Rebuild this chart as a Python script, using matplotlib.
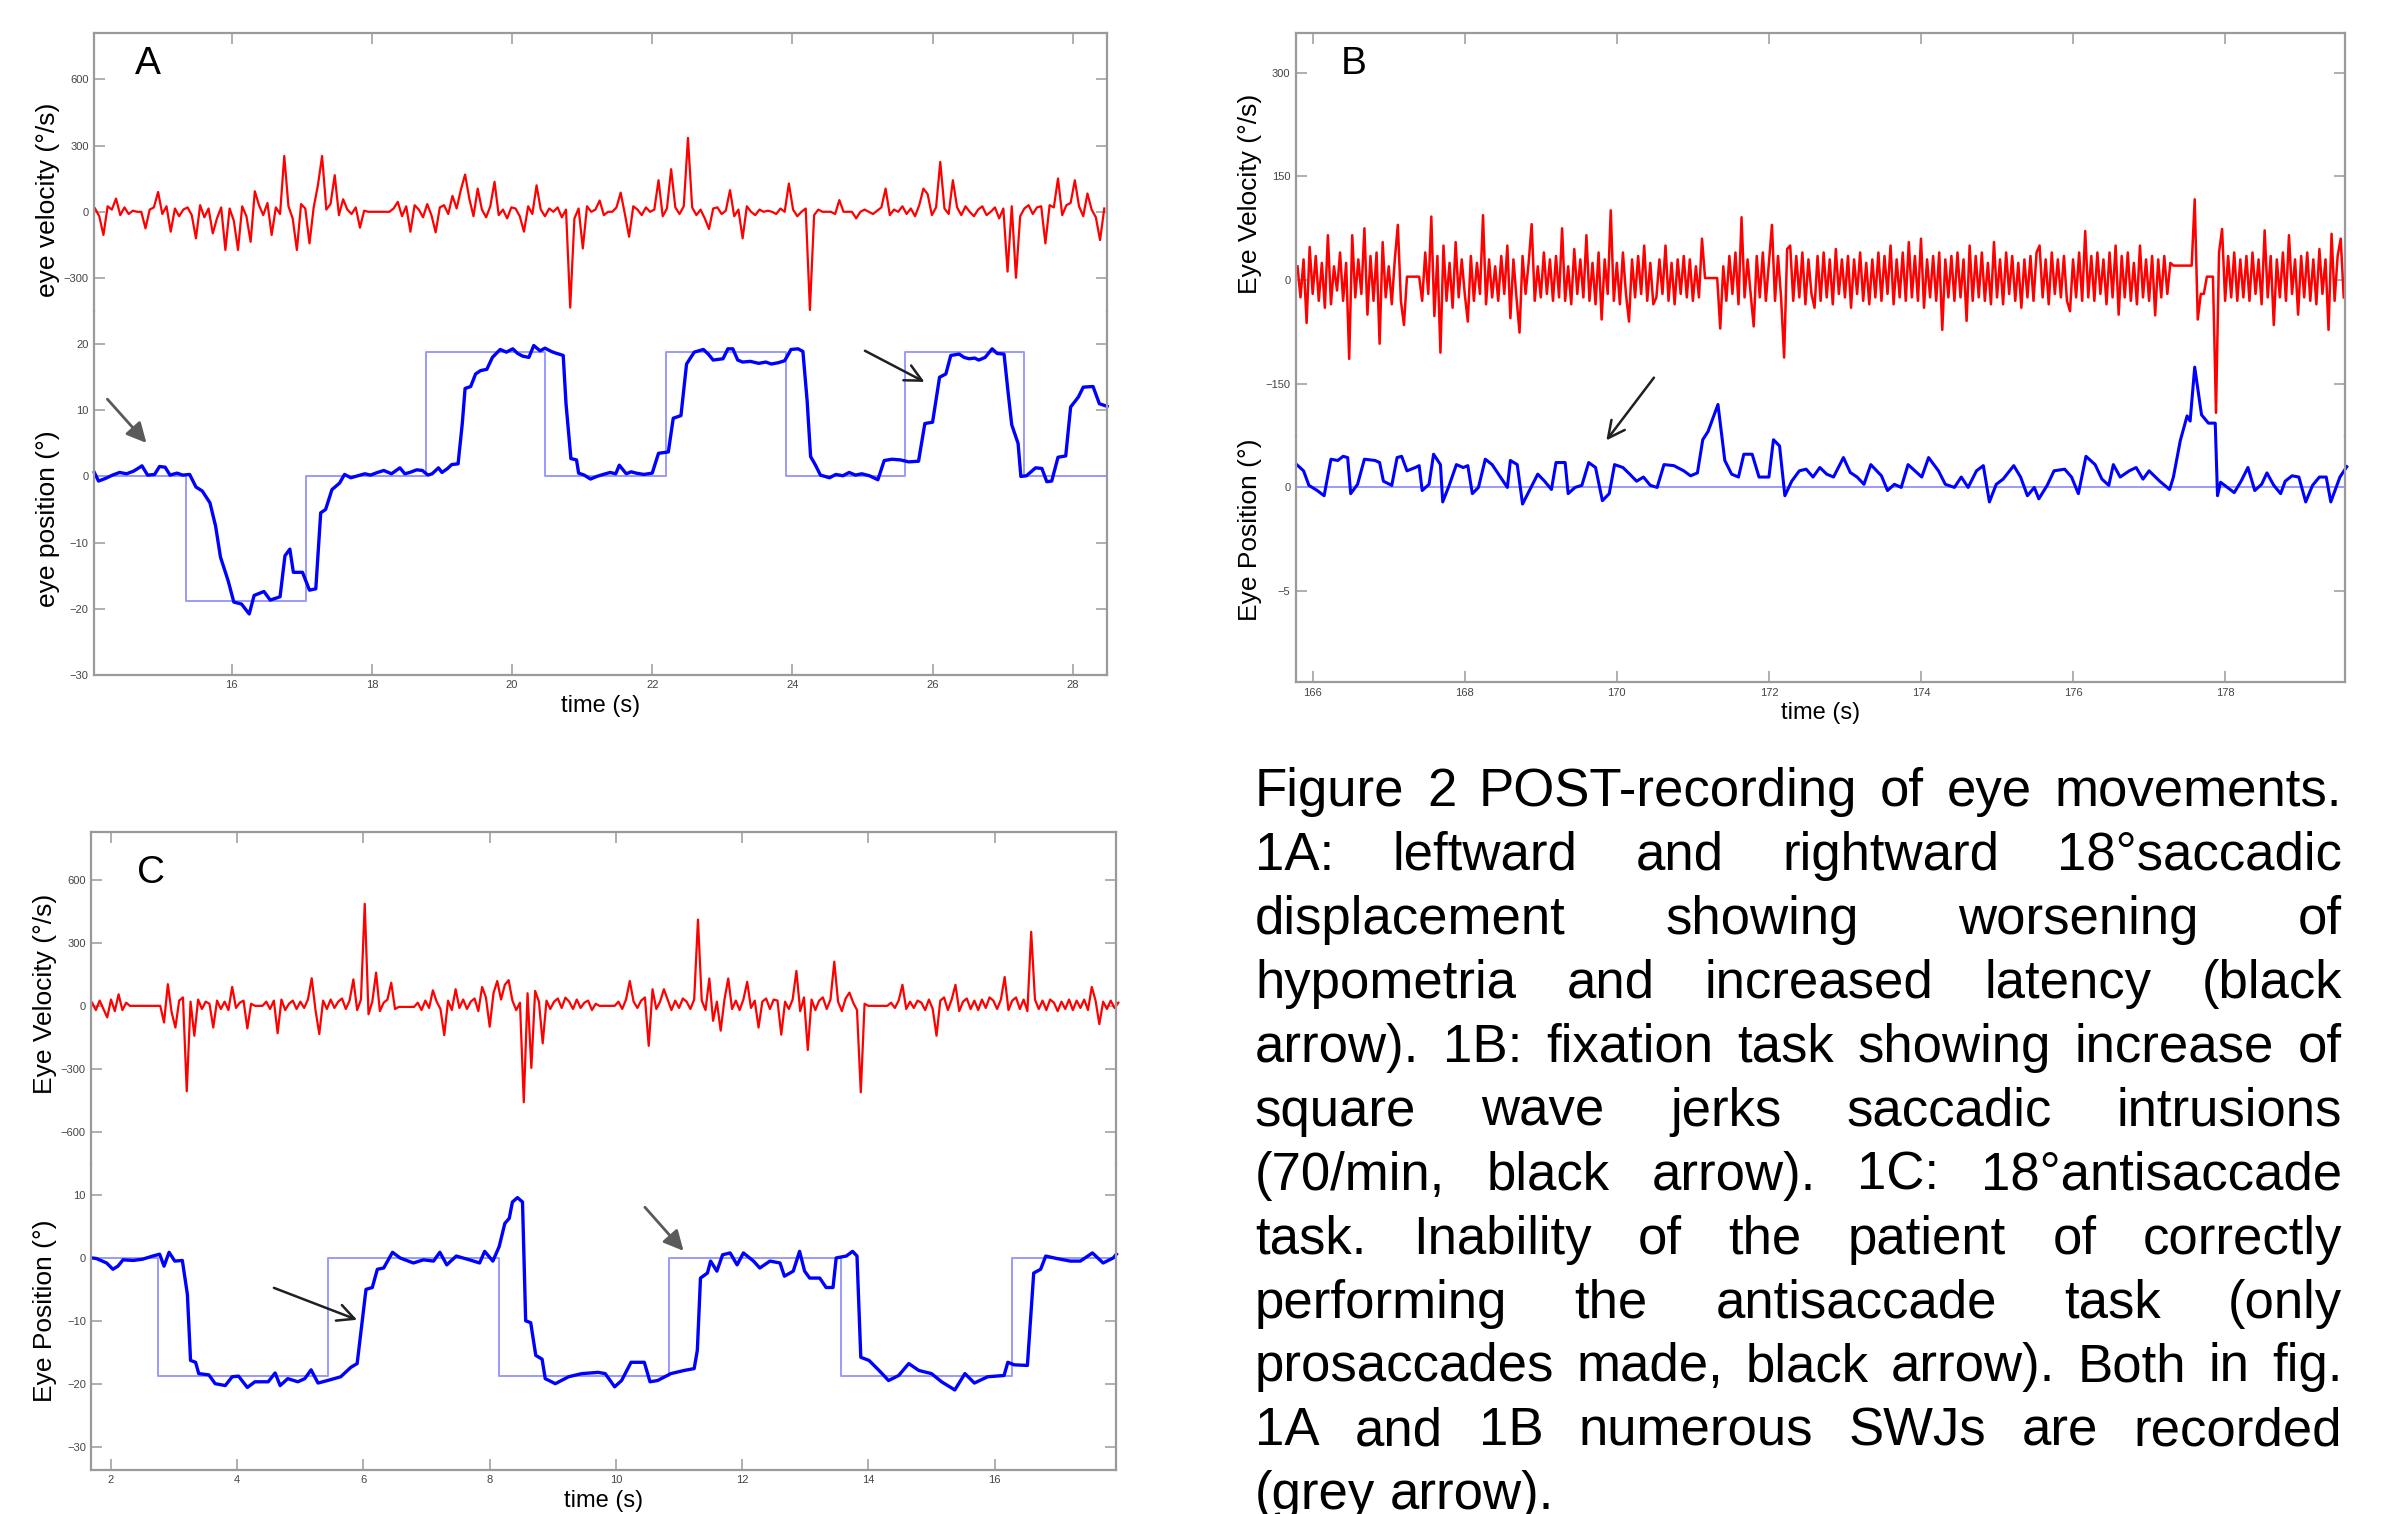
import numpy as np
import matplotlib
matplotlib.use("Agg")
import matplotlib.pyplot as plt

plt.rcParams['font.family'] = ['Liberation Sans', 'DejaVu Sans']

# ---------------- panel A: saccades ----------------
vel_a_t0, vel_a_dt = 14.05, 0.06
vel_a = [
    15, -20, -105, 25, 10, 60, -15, 20, -10, 5,
    0, 0, -75, 10, 20, 90, -10, 25, -90, 15,
    -20, 10, 20, -15, -120, 30, -25, 15, -98, -30,
    20, -173, 15, -40, -173, 25, -20, -136, 93, 30,
    -15, 40, -105, 20, -10, 253, 25, -30, -173, 35,
    15, -143, 20, 120, 253, 10, 35, 166, -15, 57,
    10, -10, 20, -72, 5, 0, 0, 0, 0, 0,
    0, 15, 45, -20, 25, -90, 30, 10, -25, 35,
    -15, -93, 20, 30, -10, 72, 15, 100, 169, 60,
    -20, 105, 10, -25, 25, 136, -15, 10, -30, 20,
    15, -20, -90, 25, -10, 120, 10, -20, 15, 0,
    20, -25, 10, -434, -30, 15, -166, 25, 0, 10,
    51, -15, 0, 0, 20, 87, -10, -113, 25, 10,
    -15, 20, 0, 10, 143, -20, 15, 193, 20, -10,
    25, 335, 20, -15, 10, -30, -78, 15, 20, -10,
    5, 98, -20, 10, -120, 25, 0, -15, 10, 0,
    5, 0, -10, 15, 0, 128, 10, -20, 0, 15,
    -445, -15, 10, 0, 0, 0, -10, 53, 0, 0,
    0, -30, 0, 10, 0, -10, 5, 20, 105, -15,
    10, 0, 25, -10, 15, -20, 30, 105, 80, -15,
    20, 226, 15, -10, 143, 20, -15, 25, 0, -20,
    10, 25, -15, 0, 20, -30, 15, -271, 25, -299,
    -20, 15, 30, -10, 20, 25, -143, 30, 20, 151,
    -15, 30, 40, 143, 25, -20, 83, 10, -25, -128,
    15,
]
pos_a_t = [
    14.04, 14.10, 14.20, 14.30, 14.40, 14.50, 14.60, 14.72, 14.80, 14.90,
    14.97, 15.05, 15.12, 15.22, 15.30, 15.40, 15.49, 15.58, 15.69, 15.77,
    15.84, 15.95, 16.03, 16.14, 16.25, 16.32, 16.46, 16.55, 16.69, 16.76,
    16.83, 16.88, 17.01, 17.11, 17.20, 17.27, 17.34, 17.43, 17.54, 17.61,
    17.70, 17.80, 17.90, 17.98, 18.08, 18.17, 18.28, 18.40, 18.47, 18.54,
    18.64, 18.72, 18.80, 18.86, 18.95, 19.00, 19.08, 19.14, 19.23, 19.29,
    19.33, 19.41, 19.48, 19.55, 19.64, 19.72, 19.83, 19.92, 20.01, 20.08,
    20.15, 20.24, 20.31, 20.40, 20.47, 20.56, 20.61, 20.73, 20.77, 20.84,
    20.92, 20.95, 21.03, 21.12, 21.21, 21.30, 21.40, 21.48, 21.53, 21.63,
    21.70, 21.77, 21.88, 22.00, 22.09, 22.23, 22.30, 22.41, 22.49, 22.60,
    22.73, 22.80, 22.87, 23.01, 23.08, 23.15, 23.22, 23.29, 23.40, 23.52,
    23.62, 23.70, 23.80, 23.89, 23.98, 24.08, 24.15, 24.21, 24.26, 24.33,
    24.40, 24.53, 24.62, 24.72, 24.81, 24.90, 24.99, 25.10, 25.22, 25.31,
    25.42, 25.54, 25.66, 25.80, 25.89, 26.00, 26.10, 26.19, 26.26, 26.38,
    26.45, 26.52, 26.60, 26.66, 26.75, 26.85, 26.92, 27.02, 27.08, 27.13,
    27.22, 27.26, 27.34, 27.47, 27.56, 27.63, 27.70, 27.79, 27.90, 27.97,
    28.08, 28.15, 28.29, 28.38, 28.49,
]
pos_a_v = [
    0.6, -0.7, -0.3, 0.2, 0.6, 0.4, 0.8, 1.6, 0.2, 0.3,
    1.5, 1.4, 0.2, 0.5, 0.2, 0.3, -1.6, -2.2, -4.0, -7.5,
    -12.2, -15.8, -19.0, -19.3, -20.8, -18.0, -17.4, -18.7, -18.2, -12.0,
    -11.0, -14.5, -14.5, -17.2, -17.0, -5.5, -5.0, -2.0, -1.0, 0.3,
    -0.2, 0.1, 0.4, 0.2, 0.6, 0.9, 0.4, 1.3, 0.4, 0.6,
    1.0, 0.9, 0.2, 0.4, 1.3, 0.6, 1.2, 1.8, 1.9, 8.0,
    13.3, 13.6, 15.5, 16.0, 16.2, 18.0, 19.2, 18.8, 19.3, 18.6,
    18.2, 18.0, 19.8, 19.0, 19.4, 18.9, 18.7, 18.3, 11.0, 2.7,
    2.5, 0.5, 0.2, -0.4, 0.0, 0.3, 0.6, 0.4, 1.7, 0.4,
    0.7, 0.5, 0.3, 0.5, 3.5, 3.7, 8.8, 9.2, 17.0, 18.8,
    19.2, 18.5, 17.6, 17.8, 19.3, 19.3, 17.6, 17.3, 17.4, 17.1,
    17.3, 17.0, 17.2, 17.5, 19.2, 19.3, 18.9, 11.5, 3.0, 1.7,
    0.2, -0.2, 0.3, 0.1, 0.6, 0.2, 0.4, 0.1, -0.5, 2.4,
    2.6, 2.5, 2.2, 2.3, 8.0, 8.2, 15.0, 15.5, 18.3, 18.5,
    18.0, 17.8, 17.9, 17.6, 18.0, 19.3, 18.6, 18.5, 12.5, 7.8,
    5.0, 0.0, 0.1, 1.3, 1.2, -0.8, -0.7, 2.9, 3.1, 10.5,
    12.0, 13.5, 13.6, 11.0, 10.6,
]
target_a_t = [14.04, 15.35, 17.06, 18.77, 20.47, 22.19, 23.91, 25.61, 27.30, 28.49]
target_a_v = [0, -18.8, 0, 18.8, 0, 18.8, 0, 18.8, 0, 0]

# ---------------- panel B: fixation ----------------
vel_b_t0, vel_b_dt = 165.80, 0.04
vel_b = [
    20, -25, 30, -62, 48, -20, 35, -30, 25, -40,
    65, -35, 20, -15, 40, -30, 25, -114, 65, -25,
    30, -20, 75, -50, 35, -30, 40, -92, 55, -25,
    20, -35, 30, 80, -30, -65, 5, 5, 5, 5,
    5, -30, 40, -20, 92, -52, 35, -105, 50, -30,
    25, -40, 55, -25, 30, -20, -60, 35, -30, 25,
    -20, 94, -35, 30, -25, 20, -30, 35, -20, 50,
    -55, 30, -25, -76, 35, -20, 25, 81, -30, 20,
    -25, 40, -20, 30, -30, 35, -25, 75, -30, 20,
    -35, 45, -20, 30, -25, 65, -30, 25, -35, 40,
    -57, 30, -20, 101, -30, 25, -35, 40, -20, -60,
    30, -25, 35, -20, 50, -30, 25, -35, -25, 30,
    -20, 50, -30, 25, -35, 30, -20, 35, -25, 30,
    -30, 20, -25, 60, 3, 3, 3, 3, 3, -70,
    20, -30, 35, -20, 40, -35, 91, -25, 30, -20,
    -67, 35, -25, 40, -30, 25, 80, -30, 35, -25,
    -112, 45, 50, -30, 35, -25, 40, -35, 30, -20,
    -40, 35, -30, 40, -25, 30, -35, 45, -20, 30,
    -25, 35, -40, 30, -20, 40, -30, 25, -35, 30,
    -25, 40, -30, 35, -20, 50, -35, 30, -25, 40,
    -30, 55, -25, 35, -30, 60, -40, 30, -25, 35,
    -30, 40, -72, 30, -25, 35, -30, 40, -25, 30,
    -59, 50, -30, 35, -25, 40, -30, 25, -35, 55,
    -25, 30, -35, 40, -20, 35, -30, 25, -40, 30,
    -25, 35, -30, 40, 50, -25, 30, -35, 40, -20,
    30, -25, 35, -30, -45, 30, -25, 40, -30, 71,
    -25, 35, -30, 40, -20, 30, -35, 40, -25, 50,
    -50, 35, -25, 40, -30, 25, -35, 50, -25, 30,
    -30, 35, -51, 30, -25, 35, -20, 25, 21, 21,
    21, 21, 21, 21, 21, 117, -57, -20, -20, 5,
    5, 5, -192, 40, 74, -30, 35, -25, 40, -30,
    30, -25, 35, -30, 40, -20, 30, -35, 72, -25,
    35, -65, 30, -25, 40, -30, 65, -20, 30, -50,
    35, -25, 40, -30, 30, -35, 45, -20, 30, -72,
    67, -30, 35, 60, -25,
]
pos_b_t = [
    165.79, 165.88, 165.95, 166.06, 166.15, 166.24, 166.33, 166.40, 166.46, 166.50,
    166.59, 166.68, 166.82, 166.88, 166.93, 167.04, 167.11, 167.17, 167.24, 167.35,
    167.40, 167.44, 167.53, 167.59, 167.68, 167.71, 167.80, 167.89, 167.98, 168.04,
    168.10, 168.18, 168.27, 168.36, 168.47, 168.56, 168.60, 168.69, 168.76, 168.85,
    168.96, 169.05, 169.14, 169.20, 169.32, 169.36, 169.45, 169.54, 169.63, 169.72,
    169.81, 169.90, 169.97, 170.08, 170.17, 170.26, 170.35, 170.44, 170.53, 170.62,
    170.75, 170.88, 170.97, 171.06, 171.13, 171.20, 171.33, 171.42, 171.51, 171.60,
    171.67, 171.78, 171.87, 172.00, 172.06, 172.14, 172.21, 172.30, 172.40, 172.49,
    172.58, 172.67, 172.76, 172.85, 172.98, 173.07, 173.16, 173.25, 173.34, 173.48,
    173.56, 173.65, 173.74, 173.83, 173.92, 174.01, 174.10, 174.23, 174.32, 174.44,
    174.53, 174.62, 174.73, 174.82, 174.90, 174.99, 175.08, 175.22, 175.31, 175.40,
    175.49, 175.55, 175.66, 175.75, 175.89, 175.98, 176.07, 176.17, 176.29, 176.38,
    176.47, 176.53, 176.62, 176.74, 176.83, 176.92, 177.00, 177.14, 177.27, 177.32,
    177.41, 177.50, 177.54, 177.60, 177.69, 177.78, 177.87, 177.90, 177.94, 178.03,
    178.12, 178.21, 178.30, 178.39, 178.48, 178.55, 178.64, 178.73, 178.79, 178.88,
    178.97, 179.06, 179.15, 179.24, 179.33, 179.39, 179.51, 179.60,
]
pos_b_v = [
    1.1, 0.8, 0.1, -0.15, -0.4, 1.36, 1.3, 1.5, 1.44, -0.3,
    0.15, 1.36, 1.3, 1.2, 0.3, 0.1, 1.44, 1.5, 0.8, 0.96,
    1.05, -0.15, 0.15, 1.6, 1.1, -0.7, 0.15, 1.1, 0.96, 1.05,
    -0.3, 0.0, 1.36, 1.1, 0.5, 0.0, 1.3, 1.1, -0.8, -0.15,
    0.64, 0.3, -0.1, 1.2, 1.2, -0.3, 0.0, 0.1, 1.2, 0.96,
    -0.64, -0.3, 1.1, 0.96, 0.64, 0.3, 0.5, 0.1, 0.0, 1.1,
    1.05, 0.8, 0.56, 0.7, 2.3, 2.7, 4.0, 1.3, 0.64, 0.5,
    1.6, 1.6, 0.5, 0.5, 2.3, 2.0, -0.4, 0.3, 0.8, 0.88,
    0.5, 0.96, 0.64, 0.5, 1.44, 0.72, 0.5, 0.15, 1.1, 0.56,
    -0.15, 0.15, 0.0, 1.1, 0.8, 0.5, 1.44, 0.8, 0.15, 0.0,
    0.5, 0.0, 0.8, 1.05, -0.7, 0.15, 0.4, 1.05, 0.5, -0.4,
    0.0, -0.55, 0.1, 0.8, 0.88, 0.5, -0.3, 1.5, 1.1, 0.4,
    0.1, 1.1, 0.5, 0.8, 0.96, 0.4, 0.8, 0.3, -0.1, 0.5,
    2.25, 3.45, 3.2, 5.8, 3.5, 3.1, 3.1, -0.4, 0.25, 0.0,
    -0.25, 0.3, 0.96, -0.15, 0.15, 0.7, 0.1, -0.3, 0.3, 0.56,
    0.5, -0.7, 0.1, 0.5, 0.5, -0.7, 0.5, 1.0,
]
target_b_t = [165.78, 179.58]
target_b_v = [0, 0]

# ---------------- panel C: antisaccades ----------------
vel_c_t0, vel_c_dt = 1.70, 0.06
vel_c = [
    15, -20, 25, -15, -55, 30, -25, 55, -20, 15,
    0, 0, 0, 0, 0, 0, 0, 0, 0, -79,
    103, -30, -103, 25, 40, -406, 20, -142, 30, -15,
    20, 10, -103, 25, -15, 20, -20, 90, -10, 15,
    25, -107, 10, 0, 0, 0, 20, -15, 25, -130,
    30, -20, 10, 25, -15, 20, -10, 30, 131, -20,
    -134, 25, -15, 30, -10, 20, 35, -15, 25, 126,
    -20, 30, 485, -40, 20, 158, -25, 15, 30, 110,
    -15, -5, -5, -5, -5, -5, 15, -20, 25, -10,
    74, 20, -15, -139, 25, -20, 79, -10, 30, -15,
    20, 35, -25, 90, 40, -99, 60, 118, 30, 100,
    122, 25, -20, 15, -458, 60, -295, 71, 20, -178,
    25, -15, 20, 35, -10, 39, 20, -15, 30, -10,
    15, 25, -20, 10, 0, 0, 0, 0, 0, 20,
    -15, 30, 118, 20, -10, 25, 40, -190, 79, -15,
    20, 79, 30, -20, 25, -10, 35, 20, -15, 30,
    410, 25, -20, 130, -71, 20, -118, 30, 130, -15,
    25, -20, 30, 114, -10, 25, -103, 20, 35, -15,
    30, 25, -137, 20, -15, 30, 166, -25, 40, -210,
    30, -20, 25, 40, -15, 30, 210, 20, -25, 35,
    63, 15, -20, -411, 10, 0, 0, 0, 0, 0,
    0, 15, -10, 25, 100, -15, 20, -10, 25, 15,
    -20, 30, -15, -142, 25, 40, -20, 30, 100, -25,
    20, 35, -15, 25, -20, 30, -10, 40, 25, -15,
    30, 137, -20, 25, 40, -15, 30, -25, 352, 30,
    -15, 25, -20, 30, 15, -25, 20, -15, 30, -20,
    25, -10, 30, -20, 90, 25, -87, 20, -15, 25,
    -10, 15,
]
pos_c_t = [
    1.70, 1.77, 1.93, 2.03, 2.11, 2.19, 2.35, 2.50, 2.66, 2.77,
    2.84, 2.92, 3.01, 3.13, 3.21, 3.26, 3.34, 3.39, 3.55, 3.65,
    3.81, 3.92, 4.02, 4.16, 4.28, 4.49, 4.60, 4.68, 4.80, 4.96,
    5.07, 5.17, 5.28, 5.43, 5.64, 5.80, 5.90, 5.98, 6.04, 6.14,
    6.22, 6.32, 6.46, 6.58, 6.79, 6.95, 7.11, 7.21, 7.32, 7.47,
    7.68, 7.84, 7.92, 8.05, 8.15, 8.24, 8.31, 8.36, 8.44, 8.52,
    8.57, 8.65, 8.73, 8.83, 8.88, 9.04, 9.25, 9.46, 9.72, 9.83,
    9.98, 10.09, 10.24, 10.45, 10.54, 10.66, 10.87, 11.08, 11.24, 11.29,
    11.34, 11.45, 11.50, 11.60, 11.69, 11.81, 11.92, 12.02, 12.18, 12.28,
    12.44, 12.60, 12.67, 12.81, 12.91, 12.99, 13.07, 13.23, 13.33, 13.44,
    13.49, 13.65, 13.75, 13.82, 13.88, 14.01, 14.17, 14.32, 14.48, 14.64,
    14.80, 15.00, 15.16, 15.37, 15.53, 15.68, 15.89, 16.15, 16.21, 16.31,
    16.52, 16.62, 16.73, 16.81, 16.99, 17.20, 17.36, 17.55, 17.72, 17.88,
    17.93,
]
pos_c_v = [
    0.0, -0.1, -0.8, -1.8, -1.3, -0.3, -0.4, -0.2, 0.3, 0.6,
    -1.3, 0.9, -0.5, -0.4, -5.8, -16.3, -16.6, -18.4, -18.6, -20.0,
    -20.3, -18.9, -18.8, -20.6, -19.7, -19.7, -18.3, -20.3, -19.2, -19.7,
    -19.2, -17.8, -19.9, -19.5, -18.9, -17.4, -16.8, -10.0, -5.0, -4.7,
    -1.8, -1.6, 0.9, 0.0, -0.8, -0.3, -0.5, 0.9, -1.1, 0.3,
    -0.3, -0.8, 1.05, -0.5, 1.8, 5.5, 6.3, 8.9, 9.6, 8.9,
    -10.0, -10.3, -15.5, -16.1, -19.2, -20.0, -18.9, -18.4, -18.2, -18.4,
    -20.5, -19.5, -16.6, -16.6, -19.7, -19.5, -18.4, -17.9, -17.6, -14.7,
    -3.2, -2.4, -0.5, -2.1, 0.5, 0.8, -1.1, 0.8, -0.5, -1.6,
    -0.5, -0.8, -2.9, -2.1, 1.05, -2.1, -3.2, -3.2, -4.7, -4.7,
    0.0, 0.3, 1.05, 0.3, -15.8, -16.3, -17.9, -19.5, -18.7, -16.8,
    -17.9, -18.4, -19.7, -21.0, -18.4, -19.9, -18.9, -18.7, -16.6, -17.0,
    -17.1, -2.4, -1.8, 0.3, -0.1, -0.5, -0.5, 0.8, -0.8, 0.0,
    0.6,
]
target_c_t = [1.69, 2.75, 5.44, 8.14, 10.84, 13.56, 16.27, 17.93]
target_c_v = [0, -18.8, 0, -18.8, 0, -18.8, 0, 0]

caption = [
    "Figure 2 POST-recording of eye movements.",
    "1A: leftward and rightward 18\u00b0saccadic",
    "displacement showing worsening of",
    "hypometria and increased latency (black",
    "arrow). 1B: fixation task showing increase of",
    "square wave jerks saccadic intrusions",
    "(70/min, black arrow). 1C: 18\u00b0antisaccade",
    "task. Inability of the patient of correctly",
    "performing the antisaccade task (only",
    "prosaccades made, black arrow). Both in fig.",
    "1A and 1B numerous SWJs are recorded",
    "(grey arrow).",
]

SPINE = "#9a9a9a"
RED = "#ff0000"
BLUE = "#0000ff"
TARGET = "#9a9aff"

fig = plt.figure(figsize=(23.88, 15.14), dpi=100)


def panel(left, width, bottom, mid, top, xlim, xticks, vlim, vticks, plim, pticks,
          vlab, plab, vlab_y, plab_y, lab_x):
    ax_p = fig.add_axes([left, bottom, width, mid - bottom])
    ax_v = fig.add_axes([left, mid, width, top - mid], sharex=ax_p)
    for ax in (ax_v, ax_p):
        ax.set_facecolor("none")
        for s in ax.spines.values():
            s.set_color(SPINE)
            s.set_linewidth(1.6)
        ax.tick_params(direction="in", length=8, width=1.1, color=SPINE,
                       labelsize=8, labelcolor="#444444", right=True, pad=4)
    ax_v.spines["bottom"].set_visible(False)
    ax_p.spines["top"].set_visible(False)
    ax_v.tick_params(axis="x", top=True, bottom=False, labelbottom=False)
    ax_p.tick_params(axis="x", top=False, bottom=True)
    ax_p.set_xlim(*xlim)
    ax_p.set_xticks(xticks)
    ax_v.set_ylim(*vlim)
    ax_v.set_yticks(vticks)
    ax_p.set_ylim(*plim)
    ax_p.set_yticks(pticks)
    ax_v.set_ylabel(vlab, fontsize=19)
    ax_p.set_ylabel(plab, fontsize=19)
    ax_v.yaxis.set_label_coords(lab_x, vlab_y)
    ax_p.yaxis.set_label_coords(lab_x, plab_y)
    ax_p.set_xlabel("time (s)", fontsize=17, labelpad=3)
    return ax_v, ax_p


def arrow(ax, tail, head, grey=False):
    if grey:
        props = dict(arrowstyle="-|>", color="#5a5a5a", lw=2.0, mutation_scale=30)
    else:
        props = dict(arrowstyle="->", color="#202020", lw=1.8, mutation_scale=30)
    ax.annotate("", xy=head, xytext=tail, arrowprops=props, annotation_clip=False)


# ---- A ----
axv, axp = panel(0.0395, 0.4241, 0.5543, 0.7945, 0.9779, (14.04, 28.49), range(16, 29, 2),
                 (-450, 808), [-300, 0, 300, 600], (-30, 25), [-30, -20, -10, 0, 10, 20],
                 "eye velocity (\u00b0/s)", "eye position (\u00b0)", 0.40, 0.43, -0.034)
t = vel_a_t0 + vel_a_dt * np.arange(len(vel_a))
axv.plot(t, vel_a, color=RED, lw=1.6, clip_on=False)
axp.plot(target_a_t, target_a_v, drawstyle="steps-post", color=TARGET, lw=1.4)
axp.plot(pos_a_t, pos_a_v, color=BLUE, lw=2.4, clip_on=False)
arrow(axp, (14.20, 12.0), (14.81, 4.75), grey=True)
arrow(axp, (25.00, 19.2), (25.92, 14.1))

# ---- B ----
axv, axp = panel(0.5427, 0.4394, 0.5493, 0.7123, 0.9779, (165.78, 179.58), range(166, 179, 2),
                 (-225, 357), [-150, 0, 150, 300], (-9.4, 2.5), [-5, 0],
                 "Eye Velocity (\u00b0/s)", "Eye Position (\u00b0)", 0.60, 0.62, -0.032)
t = vel_b_t0 + vel_b_dt * np.arange(len(vel_b))
axv.plot(t, vel_b, color=RED, lw=1.8, clip_on=False)
axp.plot(target_b_t, target_b_v, color=TARGET, lw=1.4)
axp.plot(pos_b_t, pos_b_v, color=BLUE, lw=2.2, clip_on=False)
arrow(axp, (170.51, 5.4), (169.84, 2.16))

# ---- C ----
axv, axp = panel(0.0383, 0.4292, 0.0292, 0.2314, 0.4507, (1.69, 17.93), range(2, 17, 2),
                 (-750, 828), [-600, -300, 0, 300, 600], (-33.7, 15), [-30, -20, -10, 0, 10],
                 "Eye Velocity (\u00b0/s)", "Eye Position (\u00b0)", 0.51, 0.52, -0.034)
t = vel_c_t0 + vel_c_dt * np.arange(len(vel_c))
axv.plot(t, vel_c, color=RED, lw=1.6, clip_on=False)
axp.plot(target_c_t, target_c_v, drawstyle="steps-post", color=TARGET, lw=1.4)
axp.plot(pos_c_t, pos_c_v, color=BLUE, lw=2.4, clip_on=False)
arrow(axp, (4.54, -4.6), (5.94, -10.0))
arrow(axp, (10.43, 8.4), (11.10, 0.8), grey=True)

# panel letters
for x, y, s in [(0.0619, 0.9577, "A"), (0.567, 0.9577, "B"), (0.0631, 0.4235, "C")]:
    fig.text(x, y, s, fontsize=28, ha="center", va="center")

# justified caption
renderer = fig.canvas.get_renderer()
x0, x1 = 824 / 1568, 1538 / 1568
for k, line in enumerate(caption):
    y = 1 - (529 + 42 * k) / 994
    words = line.split(" ")
    texts = [fig.text(0, y, w, fontsize=38, va="baseline", ha="left") for w in words]
    widths = [tx.get_window_extent(renderer).width / fig.bbox.width for tx in texts]
    if k == len(caption) - 1 or len(words) == 1:
        gap = fig.text(0, 0, " ", fontsize=38).get_window_extent(renderer).width / fig.bbox.width
    else:
        gap = (x1 - x0 - sum(widths)) / (len(words) - 1)
    x = x0
    for tx, w in zip(texts, widths):
        tx.set_x(x)
        x += w + gap

fig.savefig("out.png", dpi=100)
